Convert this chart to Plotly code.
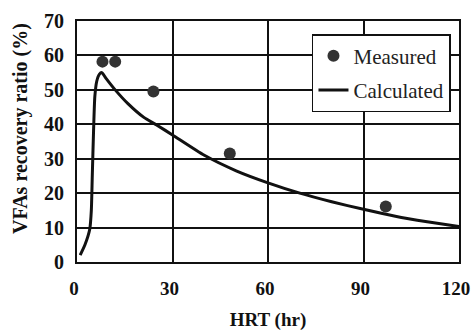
import plotly.graph_objects as go

measured_hrt = [8, 12, 24, 48, 97]
measured_ratio = [58.2, 58.2, 49.5, 31.5, 16.1]

calc_hrt = [1, 2.5, 4, 4.5, 4.8, 5.2, 5.6, 6.2, 7, 7.8, 9, 12, 16, 21, 25, 30,
            40, 50, 60, 70, 80, 90, 100, 110, 120]
calc_ratio = [2, 5, 9.5, 15, 25, 38, 48, 52.5, 54.5, 55, 53.5, 50, 46, 42, 39.8, 36.9,
              31, 26.5, 23, 20, 17.5, 15.3, 13.3, 11.7, 10.3]

x_ticks = [0, 30, 60, 90, 120]
y_ticks = [0, 10, 20, 30, 40, 50, 60, 70]

serif = "Times New Roman, Liberation Serif, DejaVu Serif, serif"

fig = go.Figure()
fig.add_trace(go.Scatter(
    x=measured_hrt, y=measured_ratio, mode="markers", name="Measured",
    marker=dict(size=12, color="#333333"), legendgroup="a"))
fig.add_trace(go.Scatter(
    x=calc_hrt, y=calc_ratio, mode="lines", name="Calculated",
    line=dict(color="#111111", width=3, shape="spline", smoothing=0.6), legendgroup="b"))

fig.update_layout(
    width=471, height=331,
    margin=dict(l=77, r=12, t=21, b=69),
    paper_bgcolor="white", plot_bgcolor="white",
    font=dict(family=serif, color="#111111"),
    showlegend=True,
    legend=dict(
        x=0.979, y=0.946, xanchor="right", yanchor="top",
        bgcolor="white", bordercolor="#111111", borderwidth=1.5,
        font=dict(family=serif, size=21, color="#222222"),
        tracegroupgap=4, traceorder="grouped"),
    xaxis=dict(
        range=[0, 120], tickvals=x_ticks, ticktext=[str(v) for v in x_ticks],
        showgrid=True, gridcolor="#111111", gridwidth=1.5,
        showline=True, linecolor="#111111", linewidth=2, mirror=True,
        ticks="", ticklabelstandoff=8, ticklabelshift=-3, zeroline=False, automargin=False,
        ticklabeloverflow="allow",
        tickfont=dict(family=serif, size=19, color="#111111", weight="bold"),
        title=dict(text="<b>HRT (hr)</b>", font=dict(family=serif, size=19), standoff=22)),
    yaxis=dict(
        range=[0, 70], tickvals=y_ticks, ticktext=[str(v) for v in y_ticks],
        showgrid=True, gridcolor="#111111", gridwidth=1.5,
        showline=True, linecolor="#111111", linewidth=2, mirror=True,
        ticks="", ticklabelstandoff=7, zeroline=False, automargin=False,
        ticklabeloverflow="allow",
        tickfont=dict(family=serif, size=20, color="#111111", weight="bold")),
    annotations=[dict(
        text="<b>VFAs recovery ratio (%)</b>", textangle=-90,
        xref="paper", yref="paper", x=(20 - 77) / 382, y=(262 - 129) / 241,
        xanchor="center", yanchor="middle", showarrow=False,
        font=dict(family=serif, size=20, color="#111111"))],
)

fig.write_html("out.html", config={"displayModeBar": False},
               post_script="document.body.style.margin='0';document.body.style.padding='0';")
